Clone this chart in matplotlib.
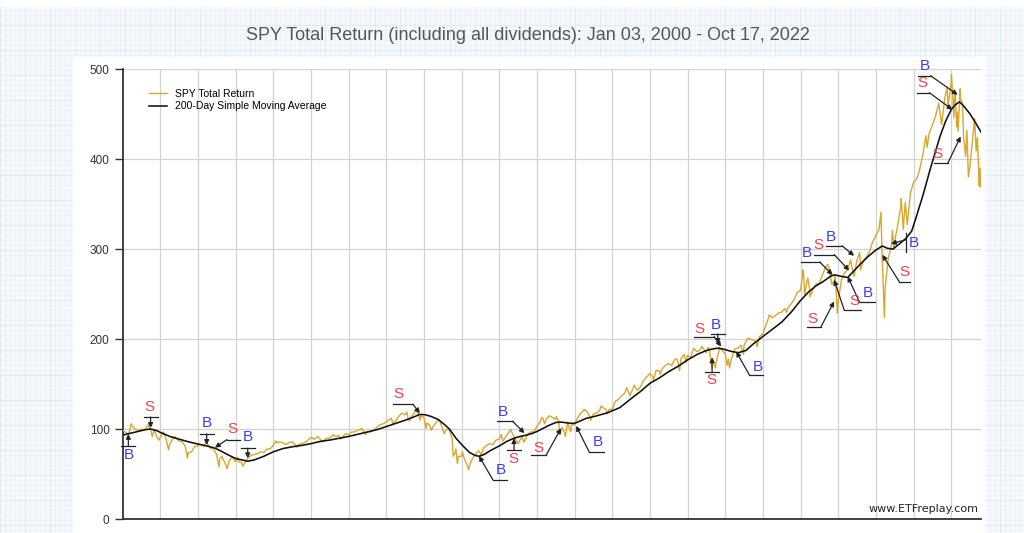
import numpy as np
import pandas as pd
import matplotlib
matplotlib.use('Agg')
import matplotlib.pyplot as plt
from matplotlib.patches import Rectangle

title = 'SPY Total Return (including all dividends): Jan 03, 2000 - Oct 17, 2022'

# month-end SPY total return, Jan 2000 .. Sep 2022
spy_month_end = [
    96, 95, 104, 100, 99, 100, 99, 105, 99, 99, 91, 91,
    97, 88, 83, 89, 90, 87, 86, 81, 74, 75, 81, 81,
    83, 81, 84, 79, 78, 72, 67, 67, 60, 65, 69, 64,
    64, 63, 63, 68, 71, 72, 73, 75, 74, 78, 78, 82,
    85, 86, 85, 83, 85, 86, 83, 83, 84, 85, 88, 91,
    89, 91, 89, 87, 90, 90, 93, 92, 93, 91, 95, 94,
    97, 97, 99, 100, 97, 97, 97, 99, 102, 105, 106, 108,
    111, 108, 109, 114, 118, 116, 112, 114, 118, 119, 115, 113,
    107, 104, 103, 108, 110, 100, 99, 100, 90, 75, 70, 70,
    66, 59, 64, 70, 74, 74, 79, 82, 84, 83, 88, 89,
    88, 91, 96, 97, 90, 85, 90, 86, 94, 97, 97, 103,
    108, 112, 111, 115, 113, 111, 109, 102, 95, 105, 105, 105,
    113, 118, 121, 120, 113, 117, 118, 121, 124, 122, 122, 122,
    131, 133, 137, 140, 143, 140, 148, 143, 147, 154, 158, 162,
    158, 165, 165, 167, 171, 173, 171, 178, 174, 179, 183, 182,
    180, 190, 186, 188, 190, 185, 189, 178, 172, 187, 188, 184,
    178, 178, 189, 190, 193, 193, 200, 200, 199, 196, 203, 206,
    216, 225, 224, 226, 229, 230, 234, 235, 239, 244, 252, 254,
    272, 262, 254, 255, 261, 262, 271, 280, 281, 261, 266, 241,
    265, 273, 277, 288, 270, 287, 291, 287, 291, 297, 308, 315,
    322, 296, 258, 290, 304, 308, 327, 349, 335, 327, 362, 374,
    378, 388, 404, 426, 428, 437, 447, 461, 438, 468, 465, 484,
    466, 452, 467, 426, 427, 391, 426, 409, 370,
]

# intra-month highs and lows
spy_swing_dates = [
    '2000-01-03', '2000-03-24', '2000-09-01', '2000-10-13', '2000-12-20',
    '2001-03-22', '2001-05-21', '2001-09-21',
    '2002-01-04', '2002-03-19', '2002-07-23', '2002-08-22', '2002-10-09', '2002-11-27',
    '2003-01-14', '2003-03-11',
    '2004-01-26', '2004-08-12', '2005-03-07', '2005-04-20', '2005-08-02', '2005-10-13',
    '2006-05-05', '2006-06-13',
    '2007-02-20', '2007-03-05', '2007-07-19', '2007-08-16', '2007-10-09', '2007-11-26',
    '2008-01-22', '2008-03-10', '2008-05-19', '2008-07-15', '2008-10-10', '2008-11-04', '2008-11-20',
    '2009-01-06', '2009-03-09', '2009-06-12', '2009-07-10',
    '2010-01-19', '2010-02-08', '2010-04-23', '2010-07-02', '2010-08-09', '2010-08-26',
    '2011-02-18', '2011-03-16', '2011-07-07', '2011-08-08', '2011-10-03', '2011-10-27', '2011-11-25',
    '2012-04-02', '2012-06-04', '2012-09-14', '2012-11-15',
    '2013-05-21', '2013-06-24', '2013-08-02',
    '2014-02-03', '2014-04-11', '2014-09-18', '2014-10-15', '2014-12-16',
    '2015-05-20', '2015-07-20', '2015-08-24', '2015-09-29', '2015-11-03',
    '2016-01-20', '2016-02-11', '2016-06-27', '2016-08-15', '2016-11-04',
    '2017-03-01', '2017-08-18',
    '2018-01-26', '2018-02-08', '2018-03-12', '2018-04-02', '2018-09-20', '2018-12-03', '2018-12-24',
    '2019-06-03', '2019-07-26', '2019-08-05',
    '2020-02-19', '2020-03-23', '2020-06-08', '2020-06-26', '2020-09-02', '2020-09-23', '2020-10-12',
    '2021-05-12', '2021-09-02', '2021-11-22', '2021-12-01',
    '2022-01-03', '2022-01-27', '2022-02-09', '2022-02-23', '2022-03-08', '2022-03-29',
    '2022-04-20', '2022-05-20', '2022-06-02', '2022-06-16', '2022-08-16', '2022-09-12',
    '2022-10-04', '2022-10-12', '2022-10-17',
]
spy_swing_values = [
    99, 106, 105, 92, 88,
    77, 92, 68,
    84, 85, 58, 70, 56, 69,
    69, 59,
    87, 80, 92, 86, 94, 89,
    101, 94,
    112, 106, 119, 109, 121, 110,
    101, 99, 111, 95, 70, 78, 62,
    75, 55, 76, 70,
    94, 87, 100, 84, 92, 86,
    113, 106, 114, 94, 92, 108, 97,
    122, 110, 126, 117,
    146, 137, 149,
    154, 161, 178, 165, 174,
    192, 191, 168, 168, 191,
    171, 168, 183, 201, 192,
    227, 230,
    277, 249, 268, 247, 283, 270, 229,
    270, 296, 277,
    341, 224, 321, 300, 356, 322, 352,
    413, 462, 479, 459,
    494, 446, 473, 436, 431, 478,
    462, 403, 432, 380, 445, 424,
    390, 369, 380,
]

# 200-day simple moving average
sma_years = [
    2000.00, 2000.20, 2000.40, 2000.60, 2000.74, 2000.90, 2001.00, 2001.25, 2001.50, 2001.75,
    2002.00, 2002.23, 2002.45, 2002.60, 2002.80, 2003.00, 2003.32, 2003.50, 2003.75, 2004.00,
    2004.25, 2004.50, 2004.75, 2005.00, 2005.25, 2005.50, 2005.75, 2006.00, 2006.25, 2006.50,
    2006.75, 2007.00, 2007.25, 2007.50, 2007.75, 2007.89, 2008.05, 2008.20, 2008.37, 2008.55,
    2008.68, 2008.85, 2009.00, 2009.20, 2009.35, 2009.46, 2009.60, 2009.75, 2010.00, 2010.20,
    2010.39, 2010.55, 2010.67, 2010.85, 2011.00, 2011.30, 2011.50, 2011.64, 2011.80, 2012.00,
    2012.30, 2012.55, 2012.85, 2013.00, 2013.20, 2013.50, 2013.75, 2014.00, 2014.25, 2014.50,
    2014.75, 2015.00, 2015.25, 2015.50, 2015.65, 2015.80, 2015.95, 2016.15, 2016.35, 2016.55,
    2016.75, 2017.00, 2017.25, 2017.50, 2017.75, 2018.00, 2018.20, 2018.40, 2018.60, 2018.80,
    2018.90, 2019.05, 2019.25, 2019.42, 2019.60, 2019.80, 2020.00, 2020.17, 2020.30, 2020.45,
    2020.60, 2020.80, 2020.95, 2021.05, 2021.25, 2021.45, 2021.70, 2021.85, 2022.00, 2022.10,
    2022.22, 2022.35, 2022.50, 2022.65, 2022.79,
]
sma_values = [
    93.5, 95.5, 97.5, 99.5, 100.3, 98.5, 96.5, 92, 89, 86,
    83.5, 81.5, 79, 76, 71.5, 67.5, 64.5, 66, 70, 75,
    78.5, 80.5, 82, 84, 86.5, 88, 90, 92, 94.5, 97,
    99.5, 103, 106.5, 110, 114, 116.5, 116, 114, 111, 105,
    100, 90, 83, 74.5, 71, 70, 72, 76, 81.5, 86.5,
    90, 92, 93, 95, 97.5, 104, 107.5, 108, 107, 106.5,
    112, 114.5, 118, 120.5, 124, 134, 142, 151, 157, 164,
    170, 177, 183, 187.5, 189, 190, 189, 186.5, 185, 187.5,
    195, 203, 211, 219, 230, 243, 252, 259, 264, 270,
    271.5, 270, 268.5, 276, 284, 292, 299, 303.5, 301, 300,
    305, 312, 320, 333, 360, 390, 425, 442, 455, 460,
    463.5, 458, 450, 440, 430,
]

# buy / sell signals (arrow tip)
signal_years = [2000.15, 2000.74, 2002.23, 2002.45, 2003.32, 2007.89, 2009.46, 2010.39, 2010.67,
                2011.64, 2012.04, 2015.65, 2015.80, 2015.89, 2016.29, 2018.85, 2018.89, 2018.89,
                2019.25, 2019.29, 2019.42, 2020.17, 2020.40, 2022.03, 2022.17, 2022.25]
signal_values = [94.8, 101.4, 82.6, 79.6, 67.8, 117.8, 70.3, 90.0, 95.6,
                 101.1, 103.7, 179.8, 194.8, 191.8, 186.2, 271.4, 265.9, 241.8,
                 269.6, 276.2, 292.6, 293.7, 306.0, 454.8, 471.4, 425.1]
signal_letters = ['B', 'S', 'B', 'S', 'B', 'S', 'B', 'S', 'B',
                  'S', 'B', 'S', 'B', 'S', 'B', 'B', 'S', 'S',
                  'B', 'S', 'B', 'S', 'B', 'S', 'B', 'S']

# marker layout in pixels from the tip (x right, y up):
# elbow ex,ey / bar bx0,by0 -> bx1,by1 / label lx,ly
signal_layout = [
    (0, -12, -7, -12, 7, -12, 0, -21), (0, 11, -7, 11, 7, 11, -1, 21),
    (0, 11, -7, 11, 7, 11, 0, 22), (12, 8, 12, 8, 25, 8, 17, 19),
    (0, 10, -7, 10, 7, 10, 0, 21), (-7, 9, -27, 9, -7, 9, -21, 19),
    (14, -24, 14, -24, 28, -24, 22, -14), (0, -12, -7, -12, 7, -12, -1, -21),
    (-12, 12, -28, 12, -12, 12, -22, 21), (-15, -27, -30, -27, -15, -27, -23, -20),
    (13, -26, 13, -26, 28, -26, 22, -16), (0, -15, -7, -15, 7, -15, -1, -23),
    (0, 10, -7, 10, 7, 10, -2, 19), (-7, 10, -27, 10, -7, 10, -22, 18),
    (13, -23, 13, -23, 27, -23, 22, -15), (-13, 13, -32, 13, -13, 13, -26, 22),
    (10, -30, 10, -30, 27, -30, 20, -21), (-13, -25, -27, -25, -13, -25, -22, -17),
    (12, -26, 12, -26, 27, -26, 20, -17), (-15, 16, -35, 16, -15, 16, -31, 26),
    (-12, 10, -28, 10, -12, 10, -23, 19), (17, -27, 17, -27, 28, -27, 22, -17),
    (15, 4, 15, 11, 15, -8, 23, 1), (-23, 17, -35, 17, -23, 17, -30, 27),
    (-27, 19, -40, 19, -27, 19, -33, 29), (-13, -27, -27, -27, -13, -27, -23, -18),
]
letter_colors = {'B': '#3c3cf2', 'S': '#f2404e'}


def to_year(dates):
    d = pd.to_datetime(pd.Series(dates))
    return (d.dt.year + (d.dt.dayofyear - 1) / 365.25).to_numpy()


month_end = pd.date_range('2000-02-01', periods=len(spy_month_end), freq='MS') - pd.Timedelta(days=1)
spy = pd.DataFrame({
    't': np.concatenate([to_year(month_end), to_year(spy_swing_dates)]),
    'v': spy_month_end + spy_swing_values,
}).sort_values('t')

W, H = 1024, 533
fig = plt.figure(figsize=(W / 100, H / 100), dpi=100)
fig.patch.set_facecolor('#f6f9fc')

# graph-paper page background
bg = fig.add_axes([0, 0, 1, 1], zorder=-10)
bg.set_xlim(0, W)
bg.set_ylim(H, 0)
bg.axis('off')
for x in range(0, W, 5):
    bg.axvline(x, color='#dbe8f3' if x % 25 == 0 else '#e9f1f8', lw=0.6)
for y in range(0, H, 5):
    bg.axhline(y, color='#dbe8f3' if y % 25 == 0 else '#e9f1f8', lw=0.6)
bg.add_patch(Rectangle((0, 0), W, 6, color='white', zorder=3))
bg.add_patch(Rectangle((73, 57), 912, H - 57, color='white', zorder=3))

fig.text(0.5156, 0.9325, title, ha='center', va='center', fontsize=13,
         color='#555555', family='Liberation Sans')

x0, x1 = 2000.0, 2022.79
ax = fig.add_axes([122.7 / W, 1 - 519.3 / H, (981 - 122.7) / W, (519.3 - 69) / H])
ax.set_xlim(x0, x1)
ax.set_ylim(0, 500)

ax.plot(spy.t, spy.v, color='#dba62e', lw=1.0, label='SPY Total Return', zorder=3)
ax.plot(sma_years, sma_values, color='#111111', lw=1.15, label='200-Day Simple Moving Average', zorder=4)

ax.set_xticks(range(2001, 2023))
ax.set_xticklabels([])
ax.tick_params(axis='x', length=0)
ax.set_yticks(range(0, 501, 100))
ax.tick_params(axis='y', length=6, width=1, color='#333333', labelsize=8.5, labelcolor='#333333')
for lab in ax.get_yticklabels():
    lab.set_family('Liberation Sans')
ax.grid(True, color='#d3d3d3', lw=0.9)
ax.set_axisbelow(True)
for s in ['top', 'right']:
    ax.spines[s].set_visible(False)
for s in ['left', 'bottom']:
    ax.spines[s].set_color('#333333')
    ax.spines[s].set_linewidth(1.3)

leg = ax.legend(loc='upper left', bbox_to_anchor=(0.025, 0.968), frameon=False,
                handlelength=1.7, labelspacing=0.25, borderpad=0,
                prop={'family': 'Liberation Sans', 'size': 7.5})

ax.text(0.997, 0.023, 'www.ETFreplay.com', transform=ax.transAxes, ha='right', va='center',
        fontsize=8, color='#222222', family='DejaVu Sans')

# signal markers: arrow from an elbow to the tip, a short bar, and the letter
pos = ax.get_position()
px_x = pos.width * W / (x1 - x0)
px_y = pos.height * H / 500.0
arrow = dict(arrowstyle='-|>', color='#222222', lw=0.9, shrinkA=0, shrinkB=0, mutation_scale=7)
for t, v, letter, lay in zip(signal_years, signal_values, signal_letters, signal_layout):
    ex, ey, bx0, by0, bx1, by1, lx, ly = lay
    ax.annotate('', xy=(t, v), xytext=(t + ex / px_x, v + ey / px_y), arrowprops=arrow, zorder=6)
    ax.plot([t + bx0 / px_x, t + bx1 / px_x], [v + by0 / px_y, v + by1 / px_y],
            color='#222222', lw=0.9, zorder=6, clip_on=False)
    ax.text(t + lx / px_x, v + ly / px_y, letter, ha='center', va='center', fontsize=11,
            color=letter_colors[letter], family='Liberation Sans', zorder=7)

fig.savefig('out.png', dpi=100, facecolor=fig.get_facecolor())
